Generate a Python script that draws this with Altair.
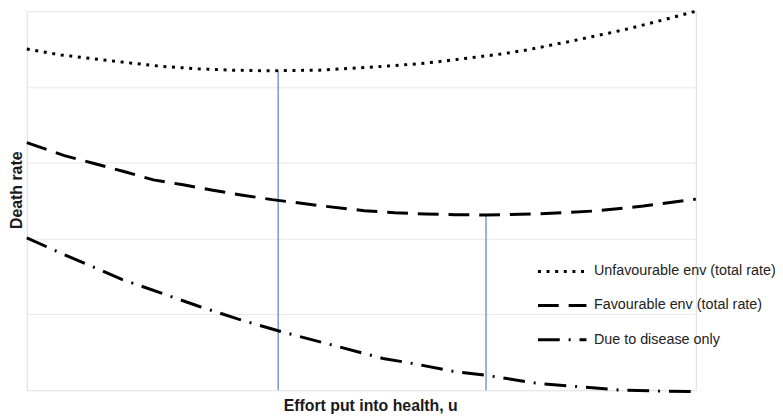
import altair as alt
import pandas as pd

# ---- data (x: effort 0..10, y: death rate 0..5) ----
series_names = ["Unfavourable env (total rate)", "Favourable env (total rate)", "Due to disease only"]

unfav_x = [0.0, 0.512, 1.021, 1.534, 2.041, 2.559, 3.062, 3.580, 3.757, 4.364, 4.734, 5.118, 5.503,
           5.888, 6.257, 6.642, 7.101, 7.470, 7.914, 8.166, 8.417, 8.669, 8.920, 9.172, 9.408, 9.660,
           9.911, 10.0]
unfav_y = [4.500, 4.422, 4.369, 4.317, 4.269, 4.239, 4.221, 4.213, 4.215, 4.221, 4.239, 4.260, 4.282,
           4.308, 4.343, 4.386, 4.435, 4.487, 4.565, 4.608, 4.657, 4.704, 4.752, 4.808, 4.860, 4.918,
           4.978, 4.998]

fav_x = [0.0, 0.562, 1.006, 1.450, 1.893, 2.337, 2.781, 3.225, 3.669, 4.438, 5.044, 5.503, 5.962,
         6.405, 6.864, 7.589, 8.476, 9.216, 10.0]
fav_y = [3.264, 3.094, 2.990, 2.885, 2.774, 2.709, 2.637, 2.572, 2.513, 2.428, 2.367, 2.341, 2.324,
         2.315, 2.311, 2.324, 2.363, 2.428, 2.520]

dis_x = [0.0, 0.488, 1.080, 1.420, 2.559, 3.151, 3.757, 5.325, 5.769, 6.376, 6.864, 7.618, 8.240,
         8.876, 9.482, 9.985]
dis_y = [2.010, 1.815, 1.593, 1.462, 1.110, 0.940, 0.783, 0.418, 0.352, 0.248, 0.196, 0.091, 0.046,
         0.0, -0.013, -0.020]

# optimum markers (vertical lines from each curve's minimum down to the axis)
opt_x = [3.757, 6.864]
opt_top = [4.215, 2.311]
opt_bottom = [0.0, 0.0]

grid_values = [0, 1, 2, 3, 4, 5]

rows = []
for name, xs, ys in zip(series_names, [unfav_x, fav_x, dis_x], [unfav_y, fav_y, dis_y]):
    for i, (a, b) in enumerate(zip(xs, ys)):
        rows.append({"series": name, "x": a, "y": b, "order": i})
df = pd.DataFrame(rows)
opt_df = pd.DataFrame({"x": opt_x, "top": opt_top, "bottom": opt_bottom})

FONT = "Liberation Sans"

x_scale = alt.Scale(domain=[0, 10], nice=False, zero=False)
y_scale = alt.Scale(domain=[0, 5], nice=False, zero=False)

lines = alt.Chart(df).mark_line(color="black", strokeWidth=3).encode(
    x=alt.X("x:Q", scale=x_scale,
            axis=alt.Axis(title="Effort put into health, u", labels=False, ticks=False, domain=False,
                          grid=False, titleFont=FONT, titleFontSize=16, titleFontWeight="bold",
                          titleColor="#1a1a1a", titleBaseline="alphabetic", titleY=21,
                          titleX=347, titleAlign="center")),
    y=alt.Y("y:Q", scale=y_scale,
            axis=alt.Axis(title="Death rate", labels=False, ticks=False, domain=False,
                          values=grid_values, grid=True, gridColor="#e8e8e8", gridWidth=1,
                          titleFont=FONT, titleFontSize=16, titleFontWeight="bold",
                          titleColor="#1a1a1a", titleX=-10.5, titleY=180.5, titleAngle=270,
                          titleAlign="center", titleBaseline="middle")),
    strokeDash=alt.StrokeDash(
        "series:N",
        scale=alt.Scale(domain=series_names, range=[[3, 5.7], [21, 10], [22, 9, 2, 9]]),
        sort=series_names,
        legend=alt.Legend(title=None, orient="none", legendX=515, legendY=237,
                          symbolType="stroke", symbolSize=2401, symbolStrokeWidth=3,
                          symbolStrokeColor="black", labelFont=FONT, labelFontSize=14.5,
                          labelColor="#222222", labelOffset=6, labelLimit=400, rowPadding=1.5),
    ),
    order="order:Q",
)

rules = alt.Chart(opt_df).mark_rule(color="#5b8bd0", strokeWidth=1.3).encode(
    x=alt.X("x:Q", scale=x_scale),
    y=alt.Y("top:Q", scale=y_scale),
    y2="bottom:Q",
)

chart = alt.layer(rules, lines).properties(
    width=676,
    height=383,
    autosize=alt.AutoSizeParams(type="none"),
    padding={"left": 19, "top": 1, "right": 80, "bottom": 27},
).configure_view(stroke=None).configure(font=FONT)

chart.save("out.html", embed_options={"renderer": "svg", "actions": False})
